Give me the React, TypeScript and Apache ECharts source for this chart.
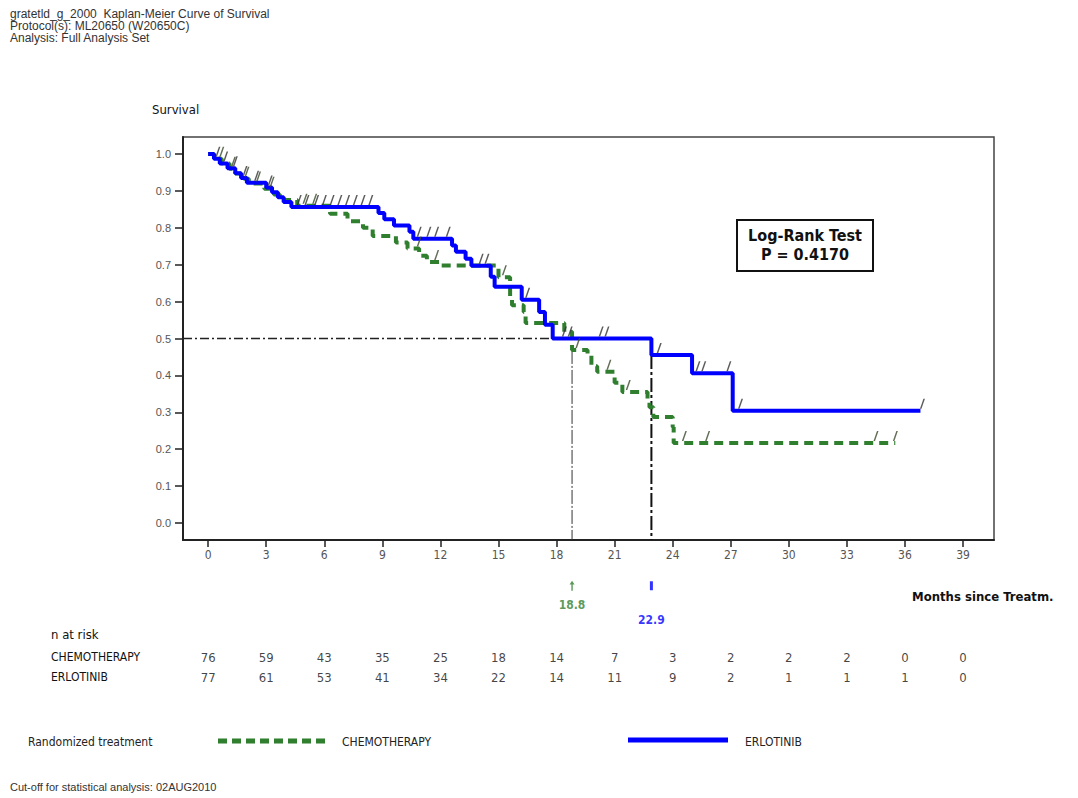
import React, { useEffect, useRef } from "react";
import * as echarts from "echarts";

// ---------------- DATA ----------------
const MONTH_TICKS = [0, 3, 6, 9, 12, 15, 18, 21, 24, 27, 30, 33, 36, 39];
const SURV_TICKS = [0, 0.1, 0.2, 0.3, 0.4, 0.5, 0.6, 0.7, 0.8, 0.9, 1.0];

// Kaplan-Meier steps: [month, survival after event]
const CHEMO_STEPS: [number, number][] = [
  [0, 1.0], [0.3, 0.987], [0.7, 0.974], [1.1, 0.96], [1.4, 0.947], [1.7, 0.933],
  [2.1, 0.92], [2.9, 0.906], [3.4, 0.89], [3.7, 0.875], [4.6, 0.86], [6.3, 0.838],
  [7.2, 0.818], [8.0, 0.8], [8.5, 0.778], [9.7, 0.76], [10.3, 0.744], [10.9, 0.724],
  [11.3, 0.707], [12.0, 0.698], [15.0, 0.666], [15.6, 0.615], [15.7, 0.59],
  [16.3, 0.572], [16.4, 0.542], [18.4, 0.518], [18.8, 0.469], [19.6, 0.458],
  [19.8, 0.425], [20.1, 0.41], [21.0, 0.38], [21.4, 0.355], [22.7, 0.333],
  [22.8, 0.314], [23.0, 0.287], [24.0, 0.26], [24.05, 0.217], [35.5, 0.217],
];
const ERLO_STEPS: [number, number][] = [
  [0, 1.0], [0.3, 0.987], [0.6, 0.974], [1.0, 0.961], [1.4, 0.948], [1.7, 0.935],
  [2.0, 0.922], [3.0, 0.909], [3.3, 0.896], [3.6, 0.883], [3.9, 0.87], [4.3, 0.856],
  [8.8, 0.84], [9.1, 0.823], [9.6, 0.806], [10.4, 0.789], [10.6, 0.77], [12.6, 0.752],
  [12.8, 0.735], [13.3, 0.716], [13.6, 0.697], [14.6, 0.667], [14.8, 0.64],
  [16.2, 0.605], [17.1, 0.572], [17.4, 0.537], [17.8, 0.5], [22.9, 0.455],
  [25.0, 0.406], [27.1, 0.304], [36.8, 0.304],
];

// censoring times (months)
const CHEMO_CENSOR = [0.6, 1.2, 1.9, 2.5, 3.2, 4.9, 5.4, 10.8, 11.7, 15.2, 19.0, 20.6, 21.6, 24.5, 25.7, 34.4, 35.4];
const ERLO_CENSOR = [0.4, 0.8, 1.3, 1.8, 2.4, 3.1, 4.6, 5.0, 5.5, 5.9, 6.3, 6.7, 7.1, 7.5, 7.9, 8.3, 10.8, 11.3, 11.7, 12.3, 14.0, 14.3, 16.4, 18.3, 18.6, 20.2, 20.5, 23.2, 25.2, 25.5, 26.8, 27.4, 36.8];

const AT_RISK_CHEMO = [76, 59, 43, 35, 25, 18, 14, 7, 3, 2, 2, 2, 0, 0];
const AT_RISK_ERLO = [77, 61, 53, 41, 34, 22, 14, 11, 9, 2, 1, 1, 1, 0];
const GROUPS = ["CHEMOTHERAPY", "ERLOTINIB"];

const MEDIAN_CHEMO = 18.8;
const MEDIAN_ERLO = 22.9;
const LOGRANK_P = "0.4170";

const HEADER_LINES = [
  "gratetld_g_2000  Kaplan-Meier Curve of Survival",
  "Protocol(s): ML20650 (W20650C)",
  "Analysis: Full Analysis Set",
];

// ---------------- STYLE ----------------
const X_MIN = -1.3;
const X_MAX = 40.6;
const Y_MIN = -0.046;
const Y_MAX = 1.046;
const GREEN = "#2f7f2f";
const BLUE = "#0000ff";
const NARROW = "'Liberation Sans Narrow', 'Arial Narrow', 'DejaVu Sans Condensed', sans-serif";
const SANS = "'Liberation Sans', Arial, sans-serif";

function survivalAt(steps: [number, number][], t: number): number {
  let v = steps[0][1];
  for (const [m, s] of steps) {
    if (m <= t) v = s;
  }
  return v;
}

const CENSOR_SYMBOL = "path://M0,12 L3.2,0 L4.6,0 L1.4,12 Z";

export default function App() {
  const ref = useRef<HTMLDivElement>(null);

  useEffect(() => {
    if (!ref.current) return;
    const chart = echarts.init(ref.current, null, { renderer: "svg" });

    const option: any = {
      animation: false,
      backgroundColor: "#ffffff",
      grid: [
        { left: 183, top: 137, width: 811, height: 403, show: true, borderColor: "#444", borderWidth: 1.5, backgroundColor: "transparent" },
        { left: 183, top: 647, width: 811, height: 40 },
      ],
      xAxis: [
        {
          type: "value", gridIndex: 0, min: X_MIN, max: X_MAX,
          axisLine: { show: true, onZero: false, lineStyle: { color: "#222", width: 2 } },
          axisTick: { show: true, customValues: MONTH_TICKS, length: 7, lineStyle: { color: "#222", width: 1.5 } },
          axisLabel: { customValues: MONTH_TICKS, color: "#555", fontSize: 12, fontFamily: NARROW, margin: 9 },
          splitLine: { show: false },
        },
        { type: "value", gridIndex: 1, min: X_MIN, max: X_MAX, show: false },
      ],
      yAxis: [
        {
          type: "value", gridIndex: 0, min: Y_MIN, max: Y_MAX,
          axisLine: { show: true, onZero: false, lineStyle: { color: "#222", width: 2 } },
          axisTick: { show: true, customValues: SURV_TICKS, length: 8, lineStyle: { color: "#222", width: 1.5 } },
          axisLabel: { customValues: SURV_TICKS, formatter: (v: number) => v.toFixed(1), color: "#555", fontSize: 11, fontFamily: SANS, margin: 12 },
          splitLine: { show: false },
        },
        {
          type: "category", gridIndex: 1, data: GROUPS, inverse: true,
          axisLine: { show: false }, axisTick: { show: false }, splitLine: { show: false },
          axisLabel: { align: "left", margin: 132, color: "#111", fontSize: 12, fontFamily: NARROW },
        },
      ],
      series: [
        // reference lines
        {
          type: "line", xAxisIndex: 0, yAxisIndex: 0, symbol: "none", silent: true,
          data: [[X_MIN, 0.5], [MEDIAN_ERLO, 0.5]],
          lineStyle: { color: "#222", width: 1.5, type: [9, 3, 2, 3] }, z: 1,
        },
        {
          type: "line", xAxisIndex: 0, yAxisIndex: 0, symbol: "none", silent: true,
          data: [[MEDIAN_CHEMO, survivalAt(CHEMO_STEPS, MEDIAN_CHEMO)], [MEDIAN_CHEMO, Y_MIN]],
          lineStyle: { color: "#333", width: 1, type: [14, 2, 2, 2] }, z: 1,
        },
        {
          type: "line", xAxisIndex: 0, yAxisIndex: 0, symbol: "none", silent: true,
          data: [[MEDIAN_ERLO, survivalAt(ERLO_STEPS, MEDIAN_ERLO)], [MEDIAN_ERLO, Y_MIN]],
          lineStyle: { color: "#111", width: 2, type: [14, 3, 3, 3] }, z: 1,
        },
        // curves
        {
          name: "CHEMOTHERAPY", type: "line", xAxisIndex: 0, yAxisIndex: 0, step: "end", symbol: "none",
          data: CHEMO_STEPS, lineStyle: { color: GREEN, width: 4, type: [9, 6] }, z: 3,
        },
        {
          name: "ERLOTINIB", type: "line", xAxisIndex: 0, yAxisIndex: 0, step: "end", symbol: "none",
          data: ERLO_STEPS, lineStyle: { color: BLUE, width: 4 }, z: 4,
        },
        // censor marks
        {
          type: "scatter", xAxisIndex: 0, yAxisIndex: 0, symbol: CENSOR_SYMBOL, symbolSize: [5, 10],
          symbolOffset: [2, -7], itemStyle: { color: "#3a4a2a" }, z: 5,
          data: CHEMO_CENSOR.map((t) => [t, survivalAt(CHEMO_STEPS, t)]),
        },
        {
          type: "scatter", xAxisIndex: 0, yAxisIndex: 0, symbol: CENSOR_SYMBOL, symbolSize: [5, 10],
          symbolOffset: [2, -7], itemStyle: { color: "#333" }, z: 5,
          data: ERLO_CENSOR.map((t) => [t, survivalAt(ERLO_STEPS, t)]),
        },
        // median annotations below the axis
        {
          type: "scatter", xAxisIndex: 0, yAxisIndex: 0, clip: false, z: 5,
          data: [
            {
              value: [MEDIAN_CHEMO, -0.17],
              symbol: "path://M2.5,0 L5,4 L3.2,4 L3.2,11 L1.8,11 L1.8,4 L0,4 Z",
              symbolSize: [5, 10],
              itemStyle: { color: GREEN },
              label: { show: true, position: "bottom", distance: 8, formatter: String(MEDIAN_CHEMO), color: GREEN, fontSize: 12, fontWeight: "bold", fontFamily: NARROW },
            },
            {
              value: [MEDIAN_ERLO, -0.17],
              symbol: "rect",
              symbolSize: [3, 9],
              itemStyle: { color: BLUE },
              label: { show: true, position: "bottom", distance: 24, formatter: String(MEDIAN_ERLO), color: BLUE, fontSize: 12, fontWeight: "bold", fontFamily: NARROW },
            },
          ],
        },
        // at-risk table
        {
          type: "scatter", xAxisIndex: 1, yAxisIndex: 1, symbolSize: 1, itemStyle: { color: "transparent" },
          data: MONTH_TICKS.map((m, i) => [m, GROUPS[0], AT_RISK_CHEMO[i]]),
          label: { show: true, position: "inside", formatter: (p: any) => String(p.value[2]), color: "#111", fontSize: 13, fontFamily: NARROW },
        },
        {
          type: "scatter", xAxisIndex: 1, yAxisIndex: 1, symbolSize: 1, itemStyle: { color: "transparent" },
          data: MONTH_TICKS.map((m, i) => [m, GROUPS[1], AT_RISK_ERLO[i]]),
          label: { show: true, position: "inside", formatter: (p: any) => String(p.value[2]), color: "#111", fontSize: 13, fontFamily: NARROW },
        },
      ],
      graphic: [
        ...HEADER_LINES.map((t, i) => ({
          type: "text", left: 10, top: 8 + i * 12,
          style: { text: t, font: `12px ${SANS}`, lineHeight: 12, fill: "#333" },
        })),
        { type: "text", left: 152, top: 103, style: { text: "Survival", font: `13px ${NARROW}`, fill: "#111" } },
        { type: "text", left: 912, top: 590, style: { text: "Months since Treatm.", font: `bold 13px ${NARROW}`, fill: "#111" } },
        { type: "text", left: 51, top: 628, style: { text: "n at risk", font: `13px ${NARROW}`, fill: "#111" } },
        {
          type: "group", left: 736, top: 219,
          children: [
            { type: "rect", shape: { x: 0, y: 0, width: 136, height: 51 }, style: { fill: "#fff", stroke: "#111", lineWidth: 2 } },
            { type: "text", x: 68, y: 15, style: { text: "Log-Rank Test", font: `bold 16px ${NARROW}`, fill: "#111", align: "center", verticalAlign: "middle" } },
            { type: "text", x: 68, y: 34, style: { text: `P = ${LOGRANK_P}`, font: `bold 16px ${NARROW}`, fill: "#111", align: "center", verticalAlign: "middle" } },
          ],
        },
        { type: "text", left: 28, top: 736, style: { text: "Randomized treatment", font: `12px ${NARROW}`, fill: "#222" } },
        { type: "line", shape: { x1: 218, y1: 741, x2: 327, y2: 741 }, style: { stroke: GREEN, lineWidth: 5, lineDash: [9, 5] } },
        { type: "text", left: 342, top: 736, style: { text: "CHEMOTHERAPY", font: `12px ${NARROW}`, fill: "#222" } },
        { type: "line", shape: { x1: 628, y1: 740, x2: 728, y2: 740 }, style: { stroke: BLUE, lineWidth: 5 } },
        { type: "text", left: 745, top: 736, style: { text: "ERLOTINIB", font: `12px ${NARROW}`, fill: "#222" } },
        { type: "text", left: 10, top: 781, style: { text: "Cut-off for statistical analysis: 02AUG2010", font: `11px ${SANS}`, fill: "#333" } },
      ],
    };

    chart.setOption(option);
    return () => chart.dispose();
  }, []);

  return (
    <div
      ref={ref}
      style={{ position: "fixed", left: 0, top: 0, width: 1078, height: 798, background: "#fff" }}
    />
  );
}
